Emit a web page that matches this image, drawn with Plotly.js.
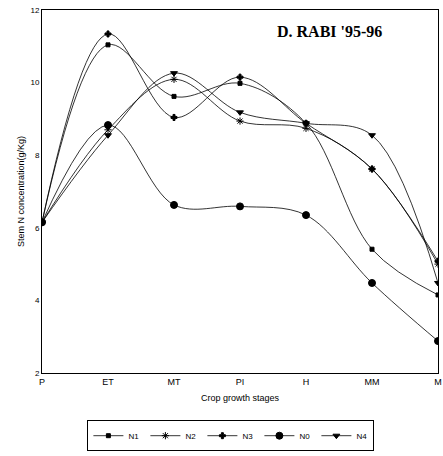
<!DOCTYPE html>
<html>
<head>
<meta charset="utf-8">
<script src="https://cdn.plot.ly/plotly-3.0.1.min.js"></script>
<style>html,body{margin:0;padding:0;background:#fff;}</style>
</head>
<body>
<div id="chart" style="width:443px;height:456px;"></div>
<script>
const stages = ['P', 'ET', 'MT', 'PI', 'H', 'MM', 'M'];
const seriesNames = ['N1', 'N2', 'N3', 'N0', 'N4'];
const N1 = [6.15, 11.04, 9.62, 9.98, 8.88, 5.41, 4.15];
const N2 = [6.15, 8.70, 10.09, 8.94, 8.74, 7.62, 5.00];
const N3 = [6.15, 11.34, 9.04, 10.15, 8.88, 7.62, 5.08];
const N0 = [6.15, 8.83, 6.63, 6.59, 6.35, 4.48, 2.88];
const N4 = [6.15, 8.55, 10.26, 9.18, 8.88, 8.55, 4.48];
const yTicks = [2, 4, 6, 8, 10, 12];

const values = [N1, N2, N3, N0, N4];
const symbols = ['square', 'asterisk-open', 'cross', 'circle', 'triangle-down'];
const sizes = [4, 6, 5, 7, 6];

const traces = values.map((v, i) => ({
  x: stages, y: v, name: seriesNames[i], type: 'scatter', mode: 'lines+markers',
  line: {color: '#000', width: 0.8, shape: 'spline', smoothing: 1},
  marker: {color: '#000', symbol: symbols[i], size: sizes[i], line: {color: '#000', width: 1}}
}));

const layout = {
  width: 443, height: 456,
  margin: {l: 42, r: 5, t: 10, b: 81},
  paper_bgcolor: '#fff', plot_bgcolor: '#fff',
  font: {family: 'Liberation Sans, Arial, sans-serif', color: '#000', size: 9},
  showlegend: true,
  legend: {orientation: 'h', x: 0.477, xanchor: 'center', y: -0.13, yanchor: 'top',
    bordercolor: '#000', borderwidth: 1, font: {size: 8}, itemwidth: 30, entrywidth: 12, entrywidthmode: 'pixels'},
  xaxis: {type: 'category', range: [0, 6], showline: true, mirror: true, linecolor: '#000', linewidth: 1,
    showgrid: false, zeroline: false, ticks: '', tickfont: {size: 9},
    title: {text: 'Crop growth stages', font: {size: 9}, standoff: 8}},
  yaxis: {range: [2, 12], tickvals: yTicks, ticktext: yTicks.map(String), showline: true, mirror: true,
    linecolor: '#000', linewidth: 1, showgrid: false, zeroline: false, ticks: '', tickfont: {size: 8},
    title: {text: 'Stem N concentration(g/Kg)', font: {size: 9}, standoff: 4}},
  annotations: [{text: "<b>D. RABI '95-96</b>", xref: 'paper', yref: 'paper', x: 0.725, y: 0.94,
    xanchor: 'center', yanchor: 'middle', showarrow: false,
    font: {family: 'Liberation Serif, Times New Roman, serif', size: 16, color: '#000'}}]
};

Plotly.newPlot('chart', traces, layout, {displayModeBar: false, staticPlot: true});
</script>
</body>
</html>
